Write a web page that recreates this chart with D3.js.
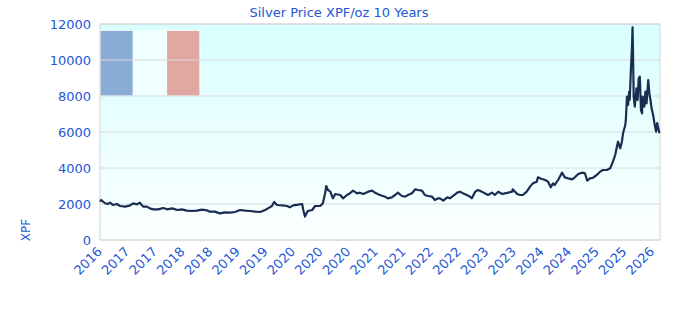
<!DOCTYPE html>
<html>
<head>
<meta charset="utf-8">
<script src="https://cdn.jsdelivr.net/npm/d3@7"></script>
<style>
  body { margin: 0; background: #fff; }
  text { font-family: "DejaVu Sans", sans-serif; }
</style>
</head>
<body>
<svg id="chart" width="680" height="320"></svg>
<script>
// decimal year of each reading
const years = [
  2016.15, 2016.17, 2016.24, 2016.29, 2016.33, 2016.38, 2016.45, 2016.51, 2016.60, 2016.69,
  2016.74, 2016.81, 2016.86, 2016.92, 2016.99, 2017.04, 2017.10, 2017.19, 2017.28, 2017.35,
  2017.44, 2017.53, 2017.61, 2017.70, 2017.79, 2017.88, 2017.97, 2018.06, 2018.11, 2018.20,
  2018.29, 2018.38, 2018.47, 2018.56, 2018.65, 2018.74, 2018.83, 2018.92, 2019.01, 2019.10,
  2019.15, 2019.22, 2019.26, 2019.31, 2019.40, 2019.49, 2019.54, 2019.60, 2019.69, 2019.76,
  2019.78, 2019.81, 2019.86, 2019.94, 2019.99, 2020.08, 2020.13, 2020.17, 2020.19, 2020.22,
  2020.26, 2020.31, 2020.35, 2020.44, 2020.49, 2020.56, 2020.61, 2020.67, 2020.74, 2020.79,
  2020.85, 2020.94, 2021.01, 2021.06, 2021.15, 2021.24, 2021.29, 2021.36, 2021.42, 2021.47,
  2021.54, 2021.60, 2021.65, 2021.72, 2021.78, 2021.83, 2021.90, 2021.95, 2022.01, 2022.08,
  2022.13, 2022.19, 2022.22, 2022.28, 2022.35, 2022.40, 2022.45, 2022.53, 2022.58, 2022.63,
  2022.70, 2022.76, 2022.79, 2022.85, 2022.90, 2022.97, 2023.02, 2023.08, 2023.15, 2023.20,
  2023.26, 2023.33, 2023.38, 2023.44, 2023.51, 2023.52, 2023.60, 2023.65, 2023.70, 2023.77,
  2023.83, 2023.88, 2023.95, 2023.97, 2024.04, 2024.10, 2024.15, 2024.20, 2024.24, 2024.27,
  2024.33, 2024.40, 2024.45, 2024.51, 2024.58, 2024.63, 2024.69, 2024.76, 2024.81, 2024.85,
  2024.90, 2024.95, 2025.02, 2025.08, 2025.13, 2025.20, 2025.26, 2025.31, 2025.35, 2025.38,
  2025.40, 2025.44, 2025.47, 2025.49, 2025.53, 2025.54, 2025.56, 2025.58, 2025.60, 2025.61,
  2025.63, 2025.65, 2025.66, 2025.67, 2025.68, 2025.70, 2025.73, 2025.75, 2025.77, 2025.79,
  2025.81, 2025.83, 2025.84, 2025.87, 2025.89, 2025.91, 2025.94, 2025.96, 2025.98, 2026.00,
  2026.03, 2026.05, 2026.08, 2026.10, 2026.12, 2026.14
];

// silver price in XPF per ounce
const prices = [
  2130, 2222, 2040, 2000, 2074, 1944, 2000, 1889, 1852, 1926,
  2037, 1981, 2074, 1852, 1852, 1759, 1704, 1704, 1778, 1704,
  1759, 1667, 1704, 1630, 1611, 1630, 1685, 1648, 1574, 1574,
  1481, 1537, 1519, 1556, 1667, 1630, 1611, 1574, 1556, 1667,
  1759, 1889, 2111, 1944, 1926, 1889, 1815, 1926, 1963, 2000,
  1667, 1300, 1611, 1667, 1889, 1889, 2037, 2593, 3000, 2778,
  2700, 2315, 2556, 2500, 2315, 2500, 2593, 2741, 2593, 2630,
  2556, 2685, 2741, 2630, 2500, 2407, 2315, 2370, 2500, 2630,
  2444, 2407, 2500, 2593, 2815, 2778, 2741, 2500, 2444, 2407,
  2222, 2315, 2315, 2185, 2370, 2315, 2444, 2630, 2685, 2593,
  2500, 2407, 2315, 2685, 2778, 2685, 2593, 2500, 2630, 2500,
  2685, 2556, 2593, 2630, 2685, 2815, 2556, 2500, 2500, 2685,
  2963, 3148, 3241, 3481, 3389, 3333, 3241, 2926, 3148, 3056,
  3333, 3741, 3481, 3426, 3370, 3481, 3667, 3741, 3700, 3296,
  3426, 3450, 3611, 3796, 3889, 3889, 3981, 4352, 4722, 5185,
  5463, 5093, 5463, 5926, 6389, 6667, 7963, 7500, 8241, 7800,
  9444, 10741, 11815, 10000, 7963, 7407, 8426, 7778, 8981, 9074,
  7222, 7037, 7963, 7407, 8241, 7593, 8889, 8148, 7778, 7315,
  6900, 6500, 6019, 6500, 6200, 5926
];

const tickLabels = ["2016", "2017", "2017", "2018", "2018", "2019", "2019", "2020", "2020", "2020",
  "2021", "2021", "2022", "2022", "2023", "2023", "2024", "2024", "2025", "2025", "2026"];
const yTicks = [0, 2000, 4000, 6000, 8000, 10000, 12000];
const legendColors = ["#8aabd6", "#f0ffff", "#e0a8a0"];

const data = years.map((y, i) => ({ t: y, v: prices[i] }));

const svg = d3.select("#chart");
const margin = { top: 24, right: 20, bottom: 80, left: 100 };
const width = 680 - margin.left - margin.right,
      height = 320 - margin.top - margin.bottom;
const textBlue = "#2357d5";

const x = d3.scaleLinear().domain([2016.15, 2026.15]).range([0, width]);
const y = d3.scaleLinear().domain([0, 12000]).range([height, 0]);

// background gradient
const grad = svg.append("defs").append("linearGradient")
    .attr("id", "bg").attr("x1", 0).attr("y1", 0).attr("x2", 0).attr("y2", 1);
grad.append("stop").attr("offset", "0%").attr("stop-color", "#d8ffff");
grad.append("stop").attr("offset", "100%").attr("stop-color", "#fcffff");

const g = svg.append("g").attr("transform", `translate(${margin.left},${margin.top})`);

g.append("rect")
    .attr("width", width).attr("height", height)
    .attr("fill", "url(#bg)");

// legend boxes (empty labels)
g.selectAll(".lg")
  .data(legendColors)
  .enter().append("rect")
    .attr("class", "lg")
    .attr("x", (d, i) => i * 33.3)
    .attr("y", y(11650))
    .attr("width", 33.3)
    .attr("height", y(8000) - y(11650))
    .attr("fill", d => d)
    .attr("stroke", "#f4ffff")
    .attr("stroke-width", 1);

// gridlines
g.append("g")
  .selectAll("line")
  .data(yTicks)
  .enter().append("line")
    .attr("x1", 0).attr("x2", width)
    .attr("y1", d => y(d)).attr("y2", d => y(d))
    .attr("stroke", "#d9d9d9")
    .attr("stroke-width", 1);

// frame
g.append("rect")
    .attr("width", width).attr("height", height)
    .attr("fill", "none")
    .attr("stroke", "#d4d4d4");

// price line
const line = d3.line()
    .x(d => x(d.t))
    .y(d => y(d.v));

g.append("path")
    .datum(data)
    .attr("fill", "none")
    .attr("stroke", "#1a2d50")
    .attr("stroke-width", 2.2)
    .attr("stroke-linejoin", "round")
    .attr("d", line);

// y axis
const yAxis = g.append("g")
    .call(d3.axisLeft(y).tickValues(yTicks).tickSize(0).tickPadding(9).tickFormat(d3.format("d")));
yAxis.select(".domain").remove();
yAxis.selectAll("text")
    .attr("fill", textBlue)
    .attr("font-size", "13px")
    .attr("font-family", "DejaVu Sans, sans-serif");

// x axis
const tickVals = tickLabels.map((d, i) => 2016.15 + i * 0.493);
const xAxis = g.append("g")
    .attr("transform", `translate(0,${height})`)
    .call(d3.axisBottom(x).tickValues(tickVals).tickSize(0)
      .tickFormat((d, i) => tickLabels[i]));
xAxis.select(".domain").remove();
xAxis.selectAll("text")
    .attr("fill", textBlue)
    .attr("font-size", "13px")
    .attr("font-family", "DejaVu Sans, sans-serif")
    .attr("text-anchor", "end")
    .attr("dy", "0.35em")
    .attr("transform", "translate(-3,7) rotate(-45)");

// title
svg.append("text")
    .attr("x", 339).attr("y", 17)
    .attr("text-anchor", "middle")
    .attr("fill", textBlue)
    .attr("font-size", "13px")
    .text("Silver Price XPF/oz 10 Years");

// y label
svg.append("text")
    .attr("transform", "translate(30,230) rotate(-90)")
    .attr("text-anchor", "middle")
    .attr("fill", textBlue)
    .attr("font-size", "12px")
    .text("XPF");
</script>
</body>
</html>
